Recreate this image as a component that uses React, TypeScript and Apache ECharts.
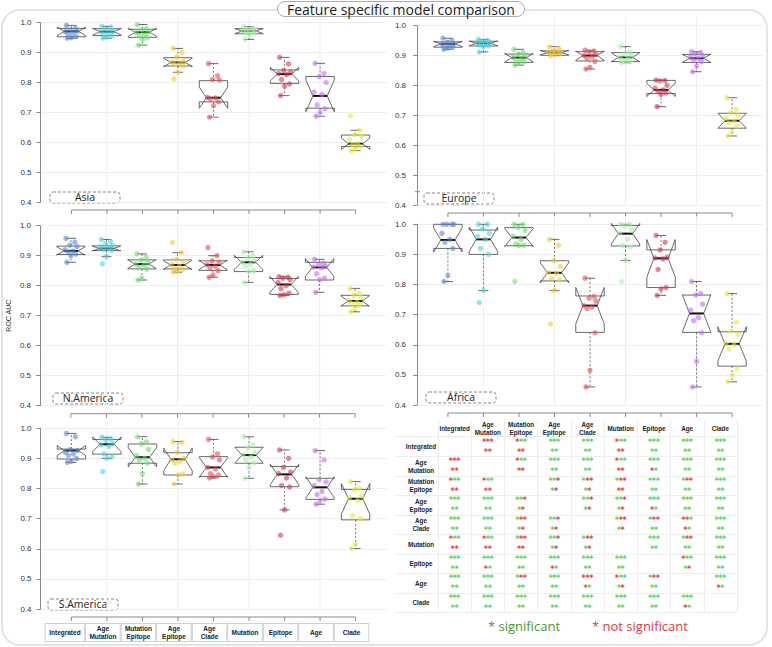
import React, { useEffect, useRef } from 'react';
import * as echarts from 'echarts';

const categories = ['Integrated', 'Age\nMutation', 'Mutation\nEpitope', 'Age\nEpitope', 'Age\nClade', 'Mutation', 'Epitope', 'Age', 'Clade'];
const colors = ['#5b8bd0', '#4fd4dc', '#6edc6e', '#f0c840', '#e0505a', '#a8eea8', '#d03850', '#c070f0', '#e8e840'];

// [lower whisker, Q1, median, Q3, upper whisker]
const asiaStats = [
  [0.948, 0.953, 0.971, 0.981, 0.991],
  [0.948, 0.957, 0.970, 0.980, 0.988],
  [0.925, 0.951, 0.968, 0.978, 0.994],
  [0.834, 0.855, 0.867, 0.883, 0.914],
  [0.684, 0.735, 0.749, 0.806, 0.863],
  [0.944, 0.963, 0.972, 0.980, 0.987],
  [0.756, 0.797, 0.828, 0.842, 0.884],
  [0.687, 0.714, 0.755, 0.820, 0.864],
  [0.572, 0.586, 0.595, 0.624, 0.640],
];
const asiaPoints = [
  [0.991, 0.982, 0.976, 0.972, 0.97, 0.965, 0.96, 0.953, 0.95, 0.948],
  [0.988, 0.985, 0.978, 0.972, 0.97, 0.968, 0.962, 0.957, 0.952, 0.948],
  [0.994, 0.98, 0.975, 0.97, 0.966, 0.96, 0.955, 0.95, 0.945, 0.925],
  [0.914, 0.9, 0.885, 0.872, 0.868, 0.865, 0.86, 0.855, 0.834, 0.812],
  [0.863, 0.822, 0.81, 0.808, 0.75, 0.748, 0.744, 0.735, 0.722, 0.684],
  [0.987, 0.982, 0.978, 0.975, 0.972, 0.97, 0.968, 0.965, 0.96, 0.944],
  [0.884, 0.862, 0.84, 0.835, 0.83, 0.826, 0.81, 0.795, 0.788, 0.756],
  [0.864, 0.83, 0.82, 0.8, 0.768, 0.76, 0.725, 0.712, 0.7, 0.687],
  [0.688, 0.64, 0.625, 0.62, 0.61, 0.596, 0.592, 0.585, 0.578, 0.572],
];

const europeStats = [
  [0.921, 0.928, 0.939, 0.946, 0.958],
  [0.912, 0.932, 0.941, 0.948, 0.954],
  [0.868, 0.877, 0.893, 0.905, 0.921],
  [0.900, 0.901, 0.910, 0.916, 0.930],
  [0.855, 0.882, 0.900, 0.913, 0.918],
  [0.876, 0.880, 0.894, 0.910, 0.930],
  [0.729, 0.773, 0.785, 0.817, 0.818],
  [0.846, 0.877, 0.891, 0.904, 0.913],
  [0.631, 0.657, 0.682, 0.707, 0.759],
];
const europePoints = [
  [0.958, 0.95, 0.945, 0.94, 0.938, 0.935, 0.932, 0.928, 0.925, 0.921],
  [0.954, 0.95, 0.948, 0.945, 0.942, 0.94, 0.936, 0.932, 0.93, 0.912],
  [0.921, 0.91, 0.905, 0.9, 0.895, 0.89, 0.885, 0.88, 0.875, 0.868],
  [0.93, 0.925, 0.918, 0.915, 0.912, 0.91, 0.907, 0.905, 0.902, 0.9],
  [0.918, 0.915, 0.91, 0.905, 0.9, 0.895, 0.89, 0.88, 0.86, 0.855],
  [0.93, 0.91, 0.905, 0.9, 0.895, 0.89, 0.885, 0.88, 0.878, 0.876],
  [0.818, 0.816, 0.815, 0.8, 0.79, 0.785, 0.78, 0.775, 0.77, 0.729],
  [0.913, 0.91, 0.905, 0.9, 0.895, 0.89, 0.885, 0.88, 0.865, 0.846],
  [0.759, 0.72, 0.71, 0.7, 0.69, 0.682, 0.675, 0.665, 0.645, 0.631],
];

const nAmericaStats = [
  [0.878, 0.904, 0.916, 0.932, 0.958],
  [0.897, 0.917, 0.924, 0.933, 0.954],
  [0.819, 0.856, 0.872, 0.886, 0.906],
  [0.845, 0.856, 0.869, 0.886, 0.910],
  [0.828, 0.851, 0.869, 0.883, 0.900],
  [0.811, 0.847, 0.878, 0.894, 0.913],
  [0.767, 0.771, 0.804, 0.824, 0.830],
  [0.778, 0.819, 0.861, 0.878, 0.888],
  [0.713, 0.733, 0.749, 0.768, 0.791],
];
const nAmericaPoints = [
  [0.958, 0.945, 0.935, 0.93, 0.92, 0.915, 0.912, 0.905, 0.9, 0.878],
  [0.954, 0.948, 0.94, 0.935, 0.93, 0.925, 0.922, 0.918, 0.897, 0.873],
  [0.906, 0.895, 0.885, 0.878, 0.872, 0.868, 0.86, 0.855, 0.825, 0.819],
  [0.944, 0.91, 0.888, 0.88, 0.87, 0.865, 0.858, 0.855, 0.848, 0.845],
  [0.927, 0.9, 0.882, 0.878, 0.87, 0.865, 0.86, 0.85, 0.835, 0.828],
  [0.913, 0.9, 0.89, 0.885, 0.878, 0.872, 0.865, 0.85, 0.847, 0.811],
  [0.83, 0.828, 0.825, 0.82, 0.81, 0.8, 0.79, 0.775, 0.77, 0.767],
  [0.888, 0.875, 0.87, 0.865, 0.862, 0.86, 0.84, 0.825, 0.82, 0.778],
  [0.791, 0.775, 0.768, 0.76, 0.75, 0.745, 0.74, 0.735, 0.725, 0.713],
];

const africaStats = [
  [0.810, 0.920, 0.948, 1.000, 1.000],
  [0.780, 0.900, 0.950, 0.981, 1.000],
  [0.929, 0.929, 0.956, 0.989, 1.000],
  [0.780, 0.812, 0.839, 0.879, 0.950],
  [0.460, 0.641, 0.730, 0.762, 0.821],
  [0.880, 0.928, 0.969, 0.996, 1.000],
  [0.764, 0.790, 0.887, 0.915, 0.963],
  [0.460, 0.641, 0.704, 0.765, 0.810],
  [0.477, 0.529, 0.603, 0.643, 0.770],
];
const africaPoints = [
  [1.0, 1.0, 1.0, 1.0, 0.97, 0.95, 0.94, 0.92, 0.83, 0.81],
  [1.0, 1.0, 0.985, 0.97, 0.96, 0.95, 0.92, 0.9, 0.78, 0.74],
  [1.0, 1.0, 0.99, 0.98, 0.96, 0.95, 0.935, 0.93, 0.93, 0.81],
  [0.95, 0.93, 0.88, 0.86, 0.84, 0.838, 0.82, 0.815, 0.78, 0.669],
  [0.821, 0.76, 0.755, 0.745, 0.73, 0.725, 0.72, 0.64, 0.515, 0.46],
  [1.0, 1.0, 0.995, 0.98, 0.97, 0.95, 0.93, 0.925, 0.88, 0.81],
  [0.963, 0.94, 0.915, 0.89, 0.888, 0.885, 0.85, 0.79, 0.785, 0.764],
  [0.81, 0.77, 0.765, 0.735, 0.715, 0.69, 0.68, 0.64, 0.545, 0.46],
  [0.77, 0.675, 0.645, 0.635, 0.605, 0.6, 0.585, 0.52, 0.5, 0.477],
];

const sAmericaStats = [
  [0.887, 0.898, 0.926, 0.931, 0.983],
  [0.900, 0.914, 0.947, 0.963, 0.970],
  [0.815, 0.884, 0.904, 0.948, 0.972],
  [0.815, 0.845, 0.897, 0.919, 0.956],
  [0.835, 0.840, 0.870, 0.906, 0.963],
  [0.834, 0.884, 0.911, 0.937, 0.972],
  [0.729, 0.806, 0.847, 0.873, 0.928],
  [0.748, 0.764, 0.804, 0.834, 0.926],
  [0.601, 0.696, 0.766, 0.797, 0.823],
];
const sAmericaPoints = [
  [0.983, 0.972, 0.93, 0.926, 0.92, 0.915, 0.91, 0.9, 0.89, 0.887],
  [0.97, 0.965, 0.96, 0.95, 0.945, 0.94, 0.915, 0.905, 0.9, 0.856],
  [0.972, 0.955, 0.948, 0.93, 0.91, 0.9, 0.895, 0.885, 0.85, 0.815],
  [0.956, 0.953, 0.92, 0.9, 0.895, 0.89, 0.885, 0.848, 0.845, 0.815],
  [0.963, 0.915, 0.905, 0.895, 0.87, 0.865, 0.85, 0.845, 0.84, 0.835],
  [0.972, 0.945, 0.935, 0.92, 0.912, 0.905, 0.895, 0.885, 0.87, 0.834],
  [0.928, 0.9, 0.87, 0.855, 0.85, 0.835, 0.81, 0.805, 0.729, 0.645],
  [0.926, 0.895, 0.83, 0.822, 0.81, 0.79, 0.78, 0.765, 0.76, 0.748],
  [0.823, 0.8, 0.795, 0.775, 0.77, 0.76, 0.71, 0.7, 0.615, 0.601],
];

// pairwise significance: top row of three stars / bottom row of two (G = significant, R = not)
const sigRow0 = ['', 'RRR/RR', 'RGG/RR', 'GGG/GG', 'GGG/GG', 'RGG/RR', 'GGG/GG', 'GGG/GG', 'GGG/GG'];
const sigRow1 = ['RRR/RR', '', 'RGG/RR', 'GGG/GG', 'GGG/GG', 'RGG/RR', 'GGG/RG', 'GGG/GG', 'GGG/GG'];
const sigRow2 = ['RGG/RR', 'RGG/RR', '', 'GGR/GR', 'GRR/GR', 'GRR/RR', 'GGG/GG', 'GRR/GG', 'GGG/GG'];
const sigRow3 = ['GGG/GG', 'GGG/GG', 'GGR/GR', '', 'GGR/GR', 'GGR/GR', 'GGG/RG', 'GGG/GG', 'GGG/GG'];
const sigRow4 = ['GGG/GG', 'GGG/GG', 'GRR/GR', 'GGR/GR', '', 'GRR/GR', 'GRR/GG', 'RRG/RG', 'GGG/GG'];
const sigRow5 = ['RGG/RR', 'RGG/RR', 'GRR/RR', 'GGR/GR', 'GRR/GR', '', 'GGG/GG', 'GRR/GG', 'GGG/GG'];
const sigRow6 = ['GGG/GG', 'GGG/RG', 'GGG/GG', 'GGG/RG', 'GGG/GG', 'GGG/GG', '', 'RGG/GR', 'GGG/GG'];
const sigRow7 = ['GGG/GG', 'GGG/GG', 'GRR/GG', 'GGG/GG', 'RRR/RG', 'RGG/GR', 'GRR/GG', '', 'GGG/RG'];
const sigRow8 = ['GGG/GG', 'GGG/GG', 'GGG/GG', 'GGG/GG', 'GGG/GG', 'GGG/GG', 'GGG/GG', 'GGG/RG', ''];
const sigRows = [sigRow0, sigRow1, sigRow2, sigRow3, sigRow4, sigRow5, sigRow6, sigRow7, sigRow8];

const panels = [
  { name: 'Asia', stats: asiaStats, points: asiaPoints, left: 40.5, top: 22.7, height: 179.3, label: [50, 192], margin: 9 },
  { name: 'Europe', stats: europeStats, points: europePoints, left: 417, top: 25.7, height: 179.3, label: [424, 193], margin: 11 },
  { name: 'N.America', stats: nAmericaStats, points: nAmericaPoints, left: 40, top: 225.7, height: 180, label: [53, 393], margin: 9 },
  { name: 'Africa', stats: africaStats, points: africaPoints, left: 417, top: 224.3, height: 180.7, label: [426, 392], margin: 11 },
  { name: 'S.America', stats: sAmericaStats, points: sAmericaPoints, left: 40.5, top: 428.3, height: 180.7, label: [48, 599], margin: 9 },
];

const JIT = [-5, 4, -1, 6, -6, 2, -3, 5, 0, -4, 3];
const AXIS_FONT = '"Liberation Sans", Arial, sans-serif';
const RED = '#e24444';
const GREEN = '#62d062';

function buildOption() {
  const grid: any[] = [];
  const xAxis: any[] = [];
  const yAxis: any[] = [];
  const series: any[] = [];
  const graphic: any[] = [];

  graphic.push({
    type: 'rect', z: 0, silent: true,
    shape: { x: 2, y: 10, width: 765, height: 635, r: 18 },
    style: { fill: 'none', stroke: '#dcdcdc', lineWidth: 1.5 },
  });

  panels.forEach((p, gi) => {
    grid.push({ left: p.left, top: p.top, width: 346, height: p.height });
    xAxis.push({ gridIndex: gi, type: 'value', min: -0.87, max: 8.87, show: false });
    yAxis.push({
      gridIndex: gi, type: 'value', min: 0.4, max: 1.0, interval: 0.1,
      axisLine: { show: true, onZero: false, lineStyle: { color: '#8a8a8a' } },
      axisTick: { show: true, length: 4, lineStyle: { color: '#8a8a8a' } },
      axisLabel: { fontSize: 8, color: '#333', fontFamily: AXIS_FONT, margin: p.margin, formatter: (v: number) => v.toFixed(1) },
      splitLine: { show: true, lineStyle: { color: '#eeeeee', width: 1 } },
      ...(p.name === 'N.America'
        ? { name: 'ROC AUC', nameLocation: 'middle', nameGap: 28, nameTextStyle: { fontSize: 7, color: '#333', fontFamily: AXIS_FONT } }
        : {}),
    });

    const isBottom = p.name === 'S.America';
    // R style axis, vertical grid, category label boxes
    series.push({
      type: 'custom', xAxisIndex: gi, yAxisIndex: gi, z: 1, silent: true,
      data: categories.map((_, k) => [k, 0.4]),
      renderItem: (params: any, api: any) => {
        const i = api.value(0);
        const base = api.coord([i, 0.4]);
        const cx = base[0];
        const ay = base[1] + 8;
        const cs = params.coordSys;
        const children: any[] = [];
        if (i % 2 === 1) {
          children.push({ type: 'line', shape: { x1: cx, y1: cs.y - 8, x2: cx, y2: cs.y + cs.height }, style: { stroke: '#ededed', lineWidth: 1 } });
        }
        children.push({ type: 'line', shape: { x1: cx, y1: ay, x2: cx, y2: ay + 4 }, style: { stroke: '#8a8a8a', lineWidth: 1 } });
        if (i === 0) {
          const last = api.coord([categories.length - 1, 0.4]);
          children.push({ type: 'line', shape: { x1: cx, y1: ay, x2: last[0], y2: ay }, style: { stroke: '#8a8a8a', lineWidth: 1 } });
        }
        if (isBottom) {
          const bw = api.size([1, 0])[0];
          const extra = i === 0 ? 5 : 0;
          const lx = cx - bw / 2 - 3.5 - extra;
          children.push({ type: 'rect', shape: { x: lx, y: ay + 6.5, width: bw - 1 + extra, height: 18 }, style: { fill: '#fff', stroke: '#cfcfcf', lineWidth: 1 } });
          children.push({
            type: 'text',
            style: { text: categories[i], x: lx + (bw - 1 + extra) / 2, y: ay + 15.8, align: 'center', verticalAlign: 'middle', fontSize: 6.5, fontWeight: 'bold', fontFamily: AXIS_FONT, fill: '#222', lineHeight: 8 },
          });
        }
        return { type: 'group', children };
      },
    });

    // notched boxes
    series.push({
      type: 'custom', xAxisIndex: gi, yAxisIndex: gi, z: 2, silent: true,
      data: p.stats.map((s, k) => [k, s[0], s[1], s[2], s[3], s[4], p.points[k].length]),
      renderItem: (params: any, api: any) => {
        const x = api.value(0);
        const lo = api.value(1), q1 = api.value(2), med = api.value(3), q3 = api.value(4), hi = api.value(5), n = api.value(6);
        const notch = (1.58 * (q3 - q1)) / Math.sqrt(n);
        const Y = (v: number) => api.coord([x, v])[1];
        const cx = api.coord([x, med])[0];
        const hw = api.size([1, 0])[0] * 0.4;
        const pts = [
          [cx - hw, Y(q1)], [cx - hw, Y(med - notch)], [cx - hw / 2, Y(med)], [cx - hw, Y(med + notch)], [cx - hw, Y(q3)],
          [cx + hw, Y(q3)], [cx + hw, Y(med + notch)], [cx + hw / 2, Y(med)], [cx + hw, Y(med - notch)], [cx + hw, Y(q1)],
        ];
        const cap = 5;
        return {
          type: 'group',
          children: [
            { type: 'line', shape: { x1: cx, y1: Y(q3), x2: cx, y2: Y(hi) }, style: { stroke: '#555', lineWidth: 0.8, lineDash: [2, 2] } },
            { type: 'line', shape: { x1: cx, y1: Y(q1), x2: cx, y2: Y(lo) }, style: { stroke: '#555', lineWidth: 0.8, lineDash: [2, 2] } },
            { type: 'line', shape: { x1: cx - cap, y1: Y(hi), x2: cx + cap, y2: Y(hi) }, style: { stroke: '#444', lineWidth: 0.8 } },
            { type: 'line', shape: { x1: cx - cap, y1: Y(lo), x2: cx + cap, y2: Y(lo) }, style: { stroke: '#444', lineWidth: 0.8 } },
            { type: 'polygon', shape: { points: pts }, style: { fill: 'none', stroke: '#444', lineWidth: 0.8 } },
            { type: 'line', shape: { x1: cx - hw / 2, y1: Y(med), x2: cx + hw / 2, y2: Y(med) }, style: { stroke: '#111', lineWidth: 2 } },
          ],
        };
      },
    });

    // jittered points
    const ptData: number[][] = [];
    p.points.forEach((arr, k) => arr.forEach((v, j) => ptData.push([k, v, j])));
    series.push({
      type: 'custom', xAxisIndex: gi, yAxisIndex: gi, z: 3, silent: true,
      data: ptData,
      renderItem: (params: any, api: any) => {
        const k = api.value(0);
        const c = api.coord([k, api.value(1)]);
        const off = JIT[api.value(2) % JIT.length];
        return { type: 'circle', shape: { cx: c[0] + off, cy: c[1], r: 2.7 }, style: { fill: colors[k], opacity: 0.6 } };
      },
    });

    graphic.push({
      type: 'group', silent: true, z: 5,
      children: [
        { type: 'rect', shape: { x: p.label[0], y: p.label[1], width: 70, height: 11, r: 3 }, style: { fill: '#fff', stroke: '#666', lineWidth: 0.8, lineDash: [3, 2] } },
        { type: 'text', style: { text: p.name, x: p.label[0] + 35, y: p.label[1] + 5, align: 'center', verticalAlign: 'middle', fontSize: 10.5, fontFamily: '"Open Sans", sans-serif', fill: '#222' } },
      ],
    });
  });

  // stray tick on Europe axis
  graphic.push({ type: 'line', silent: true, shape: { x1: 415, y1: 191.7, x2: 420, y2: 191.7 }, style: { stroke: '#8a8a8a', lineWidth: 1 } });

  // significance table
  const ti = panels.length;
  grid.push({ left: 438, top: 436.7, width: 299, height: 176 });
  xAxis.push({
    gridIndex: ti, type: 'category', position: 'top', data: categories,
    axisLine: { show: true, lineStyle: { color: '#eeeeee' } },
    axisTick: { show: true, length: 17, interval: 0, lineStyle: { color: '#eeeeee' } },
    axisLabel: { interval: 0, fontSize: 6.3, fontWeight: 'bold', fontFamily: AXIS_FONT, color: '#222', verticalAlign: 'middle', margin: 8.4, lineHeight: 8 },
    splitLine: { show: true, interval: 0, lineStyle: { color: '#eeeeee' } },
  });
  yAxis.push({
    gridIndex: ti, type: 'category', inverse: true, data: categories,
    axisLine: { show: true, lineStyle: { color: '#eeeeee' } },
    axisTick: { show: true, length: 43, interval: 0, lineStyle: { color: '#eeeeee' } },
    axisLabel: { interval: 0, fontSize: 6.3, fontWeight: 'bold', fontFamily: AXIS_FONT, color: '#222', align: 'center', margin: 17, lineHeight: 8 },
    splitLine: { show: true, interval: 0, lineStyle: { color: '#eeeeee' } },
  });
  const sigCells: any[] = [];
  sigRows.forEach((row, r) => row.forEach((pat, c) => { if (pat) sigCells.push([c, r, pat]); }));
  series.push({
    type: 'custom', xAxisIndex: ti, yAxisIndex: ti, z: 3, silent: true,
    data: sigCells.map((d) => [d[0], d[1]]),
    renderItem: (params: any, api: any) => {
      const cell = sigCells[params.dataIndex];
      const [cx, cy] = api.coord([cell[0], cell[1]]);
      const [top, bottom] = cell[2].split('/');
      const children: any[] = [];
      const star = (ch: string, x: number, y: number) => ({
        type: 'text',
        style: { text: '*', x, y, align: 'center', verticalAlign: 'middle', fontSize: 8, fontWeight: 'bold', fontFamily: '"DejaVu Sans", sans-serif', fill: ch === 'R' ? RED : GREEN },
      });
      top.split('').forEach((ch: string, k: number) => children.push(star(ch, cx + (k - 1) * 3.8, cy - 4.4)));
      bottom.split('').forEach((ch: string, k: number) => children.push(star(ch, cx + (k - 0.5) * 3.8, cy + 5.6)));
      return { type: 'group', children };
    },
  });

  graphic.push({ type: 'text', silent: true, style: { text: '* significant', x: 488, y: 626, verticalAlign: 'middle', fontSize: 13, fontFamily: '"Open Sans", sans-serif', fill: '#4a9a2e' } });
  graphic.push({ type: 'text', silent: true, style: { text: '* not significant', x: 592, y: 626, verticalAlign: 'middle', fontSize: 13, fontFamily: '"Open Sans", sans-serif', fill: '#e03a3a' } });

  return {
    animation: false,
    backgroundColor: '#fff',
    title: {
      text: 'Feature specific model comparison', left: 277, top: 1, z: 10,
      padding: [1, 10, 1, 10], borderColor: '#aaaaaa', borderWidth: 1, borderRadius: 9, backgroundColor: '#fff',
      textStyle: { fontSize: 14, fontWeight: 'normal', fontFamily: '"Open Sans", sans-serif', color: '#222' },
    },
    grid, xAxis, yAxis, series, graphic,
  };
}

export default function App() {
  const ref = useRef<HTMLDivElement>(null);
  useEffect(() => {
    document.body.style.margin = '0';
    const chart = echarts.init(ref.current as HTMLDivElement, null, { renderer: 'svg' });
    chart.setOption(buildOption() as any);
    return () => chart.dispose();
  }, []);
  return <div ref={ref} style={{ width: 772, height: 647 }} />;
}
